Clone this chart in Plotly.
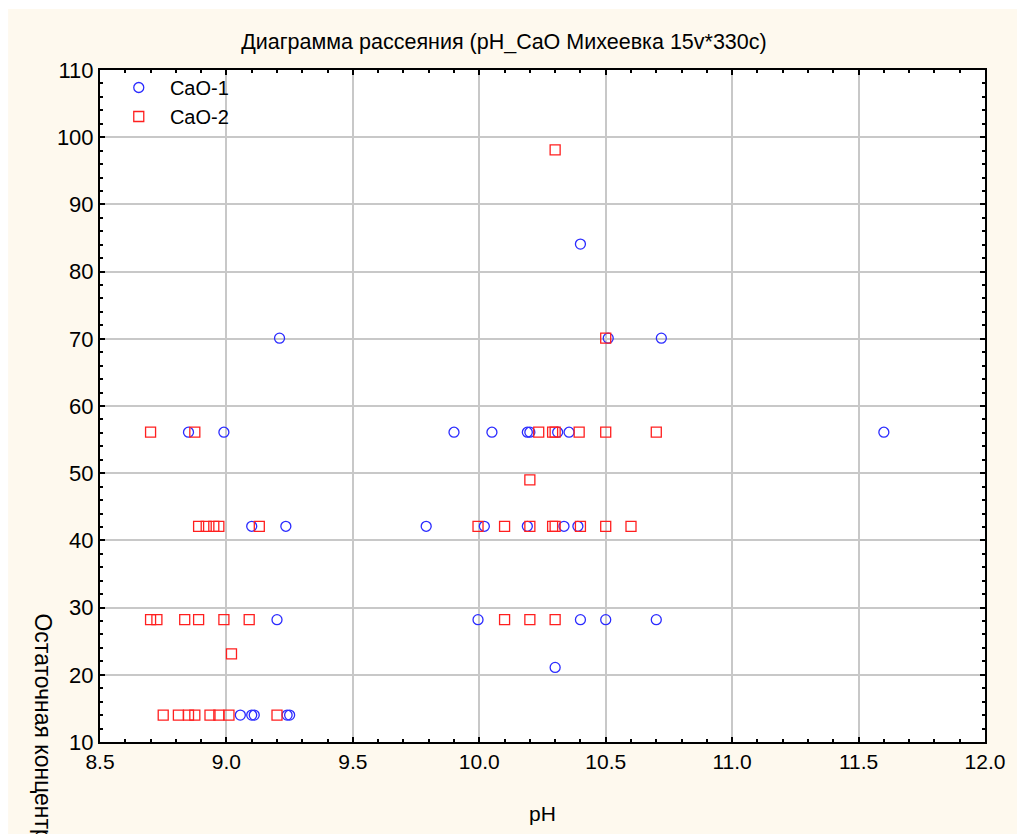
import plotly.graph_objects as go

# CaO-1 (blue circles)
ph_1 = [8.85, 8.99, 9.90, 10.05, 10.19, 10.20, 10.31, 10.355, 11.60,
        9.10, 9.235, 9.79, 10.02, 10.19, 10.335, 10.39,
        9.20, 9.995, 10.40, 10.50, 10.70,
        10.30,
        9.055, 9.10, 9.11, 9.24, 9.25,
        9.21, 10.51, 10.72,
        10.40]
cao_1 = [56.1, 56.1, 56.1, 56.1, 56.1, 56.1, 56.1, 56.1, 56.1,
         42.1, 42.1, 42.1, 42.1, 42.1, 42.1, 42.1,
         28.2, 28.2, 28.2, 28.2, 28.2,
         21.1,
         14.0, 14.0, 14.0, 14.0, 14.0,
         70.1, 70.1, 70.1,
         84.1]

# CaO-2 (red squares)
ph_2 = [10.30,
        10.50,
        8.70, 8.875, 10.235, 10.29, 10.30, 10.395, 10.50, 10.70,
        10.20,
        8.89, 8.92, 8.95, 8.97, 9.13, 9.995, 10.10, 10.20, 10.29, 10.30, 10.40, 10.50, 10.60,
        8.70, 8.725, 8.835, 8.89, 8.99, 9.09, 10.10, 10.20, 10.30,
        9.02,
        8.75, 8.81, 8.85, 8.875, 8.935, 8.97, 9.01, 9.20]
cao_2 = [98.1,
         70.1,
         56.1, 56.1, 56.1, 56.1, 56.1, 56.1, 56.1, 56.1,
         49.0,
         42.1, 42.1, 42.1, 42.1, 42.1, 42.1, 42.1, 42.1, 42.1, 42.1, 42.1, 42.1, 42.1,
         28.2, 28.2, 28.2, 28.2, 28.2, 28.2, 28.2, 28.2, 28.2,
         23.1,
         14.0, 14.0, 14.0, 14.0, 14.0, 14.0, 14.0, 14.0]

title_text = "Диаграмма рассеяния (pH_CaO Михеевка 15v*330c)"
x_title = "pH"
y_title = "Остаточная концентрация CaO, мг/дм³"
legend_names = ["\u00a0\u00a0CaO-1", "\u00a0\u00a0CaO-2"]

FONT = "Liberation Sans, Arial, sans-serif"
CREAM = "#FEF9EE"

W, H = 1017, 834
L, R, T, B = 100, 21, 70, 91
pw = W - L - R
ph = H - T - B

def px_x(p):
    return (p - L) / pw

def px_y(p):
    return (H - B - p) / ph

fig = go.Figure()
fig.add_trace(go.Scatter(
    x=ph_1, y=cao_1, mode="markers", name=legend_names[0],
    marker=dict(symbol="circle-open", size=10, color="#2b2bff", line=dict(width=1.3)),
))
fig.add_trace(go.Scatter(
    x=ph_2, y=cao_2, mode="markers", name=legend_names[1],
    marker=dict(symbol="square-open", size=10, color="#ff1f1f", line=dict(width=1.3)),
))

axis_common = dict(
    showline=True, linecolor="black", linewidth=2, mirror="ticks",
    ticks="inside", ticklen=5, tickwidth=1.5, tickcolor="black",
    showgrid=True, gridcolor="#c8c8c8", gridwidth=2, zeroline=False,
)

fig.update_layout(
    width=W, height=H,
    margin=dict(l=L, r=R, t=T, b=B),
    paper_bgcolor="white",
    plot_bgcolor="white",
    font=dict(family=FONT, color="black"),
    title=dict(text=title_text, x=px_x(509), xref="paper", xanchor="center",
               y=1 - 41 / H, yanchor="middle",
               font=dict(family=FONT, size=21.5, color="black")),
    xaxis=dict(range=[8.5, 12.0], dtick=0.5, tick0=8.5, tickformat=".1f",
               minor=dict(dtick=0.1, ticks="inside", ticklen=3, tickcolor="black", showgrid=False),
               tickfont=dict(family=FONT, size=21, color="black"),
               title=dict(text=x_title, font=dict(family=FONT, size=21, color="black"), standoff=34),
               **axis_common),
    yaxis=dict(range=[10, 110], dtick=10, tick0=10,
               minor=dict(dtick=2, ticks="inside", ticklen=3, tickcolor="black", showgrid=False),
               tickfont=dict(family=FONT, size=22, color="black"),
               **axis_common),
    legend=dict(x=px_x(119), y=1 + 2 / ph, xanchor="left", yanchor="top",
                bgcolor="rgba(0,0,0,0)", borderwidth=0,
                font=dict(family=FONT, size=20, color="black")),
    shapes=[
        dict(type="rect", xref="paper", yref="paper", layer="below",
             x0=px_x(7), x1=px_x(W + 20), y0=px_y(H + 5), y1=px_y(9),
             fillcolor=CREAM, line=dict(width=0)),
        dict(type="rect", xref="paper", yref="paper", layer="below",
             x0=0, x1=1, y0=0, y1=1,
             fillcolor="white", line=dict(width=0)),
    ],
    annotations=[
        dict(text=y_title, xref="paper", yref="paper",
             x=px_x(42), y=px_y(612), xanchor="center", yanchor="top",
             textangle=90, showarrow=False,
             font=dict(family=FONT, size=23, color="black")),
    ],
)

fig.write_html("out.html")
